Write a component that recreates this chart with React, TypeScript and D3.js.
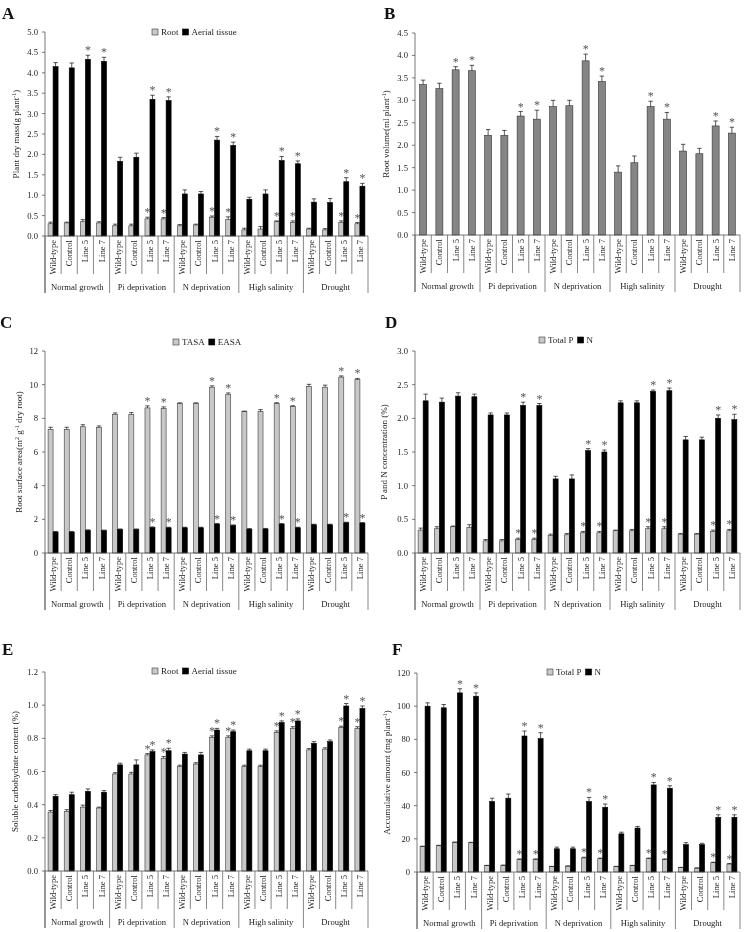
import React from 'react';
import * as d3 from 'd3';

const groups = ['Normal growth', 'Pi deprivation', 'N deprivation', 'High salinity', 'Drought'];
const lineNames = ['Wild-type', 'Control', 'Line 5', 'Line 7'];

// A: plant dry mass (g plant-1)
const massRoot = [0.30, 0.32, 0.35, 0.32, 0.25, 0.25, 0.42, 0.42, 0.25, 0.27, 0.46, 0.41, 0.15, 0.17, 0.35, 0.33, 0.17, 0.15, 0.33, 0.30];
const massRootErr = [0.04, 0.02, 0.05, 0.03, 0.04, 0.04, 0.04, 0.03, 0.03, 0.02, 0.03, 0.06, 0.04, 0.06, 0.02, 0.04, 0.02, 0.03, 0.04, 0.03];
const massRootSig = [0, 0, 0, 0, 0, 0, 1, 1, 0, 0, 1, 1, 0, 0, 1, 1, 0, 0, 1, 1];
const massAerial = [4.15, 4.12, 4.33, 4.28, 1.83, 1.93, 3.35, 3.32, 1.03, 1.03, 2.35, 2.22, 0.90, 1.03, 1.85, 1.77, 0.83, 0.82, 1.33, 1.22];
const massAerialErr = [0.1, 0.12, 0.1, 0.1, 0.1, 0.1, 0.1, 0.09, 0.1, 0.06, 0.09, 0.08, 0.05, 0.1, 0.1, 0.07, 0.08, 0.1, 0.1, 0.07];
const massAerialSig = [0, 0, 1, 1, 0, 0, 1, 1, 0, 0, 1, 1, 0, 0, 1, 1, 0, 0, 1, 1];

// B: root volume (ml plant-1)
const volume = [3.35, 3.26, 3.68, 3.66, 2.22, 2.22, 2.65, 2.58, 2.86, 2.88, 3.88, 3.42, 1.40, 1.61, 2.86, 2.58, 1.87, 1.81, 2.43, 2.27];
const volumeErr = [0.1, 0.12, 0.07, 0.12, 0.13, 0.11, 0.1, 0.2, 0.14, 0.12, 0.15, 0.12, 0.14, 0.15, 0.12, 0.15, 0.15, 0.12, 0.11, 0.13];
const volumeSig = [0, 0, 1, 1, 0, 0, 1, 1, 0, 0, 1, 1, 0, 0, 1, 1, 0, 0, 1, 1];

// C: root surface area
const tasa = [7.35, 7.35, 7.5, 7.45, 8.22, 8.22, 8.62, 8.58, 8.88, 8.88, 9.85, 9.43, 8.4, 8.4, 8.88, 8.7, 9.9, 9.85, 10.45, 10.3];
const tasaErr = [0.12, 0.12, 0.12, 0.1, 0.1, 0.12, 0.12, 0.1, 0.04, 0.04, 0.08, 0.08, 0.03, 0.12, 0.05, 0.05, 0.12, 0.12, 0.07, 0.07];
const tasaSig = [0, 0, 0, 0, 0, 0, 1, 1, 0, 0, 1, 1, 0, 0, 1, 1, 0, 0, 1, 1];
const easa = [1.25, 1.25, 1.35, 1.33, 1.4, 1.4, 1.52, 1.5, 1.5, 1.5, 1.72, 1.63, 1.42, 1.43, 1.72, 1.5, 1.68, 1.68, 1.8, 1.78];
const easaErr = [0.03, 0.03, 0.03, 0.03, 0.03, 0.03, 0.03, 0.03, 0.03, 0.03, 0.03, 0.04, 0.03, 0.03, 0.03, 0.03, 0.03, 0.03, 0.03, 0.03];
const easaSig = [0, 0, 0, 0, 0, 0, 1, 1, 0, 0, 1, 1, 0, 0, 1, 1, 0, 0, 1, 1];

// D: P and N concentration (%)
const totalP = [0.34, 0.36, 0.39, 0.38, 0.18, 0.18, 0.2, 0.2, 0.26, 0.27, 0.3, 0.3, 0.33, 0.33, 0.36, 0.36, 0.28, 0.28, 0.32, 0.33];
const totalPErr = [0.03, 0.03, 0.01, 0.04, 0.02, 0.02, 0.02, 0.02, 0.02, 0.02, 0.02, 0.02, 0.01, 0.02, 0.03, 0.03, 0.01, 0.01, 0.02, 0.02];
const totalPSig = [0, 0, 0, 0, 0, 0, 1, 1, 0, 0, 1, 1, 0, 0, 1, 1, 0, 0, 1, 1];
const nConc = [2.26, 2.24, 2.33, 2.32, 2.05, 2.05, 2.19, 2.19, 1.1, 1.1, 1.52, 1.5, 2.23, 2.23, 2.4, 2.41, 1.68, 1.68, 2.0, 1.98];
const nConcErr = [0.1, 0.06, 0.05, 0.04, 0.03, 0.03, 0.05, 0.03, 0.04, 0.06, 0.03, 0.03, 0.03, 0.03, 0.02, 0.04, 0.05, 0.04, 0.05, 0.08];
const nConcSig = [0, 0, 0, 0, 0, 0, 1, 1, 0, 0, 1, 1, 0, 0, 1, 1, 0, 0, 1, 1];

// E: soluble carbohydrate content (%)
const carbRoot = [0.355, 0.36, 0.385, 0.38, 0.585, 0.585, 0.70, 0.68, 0.63, 0.645, 0.805, 0.805, 0.63, 0.63, 0.835, 0.86, 0.73, 0.735, 0.865, 0.86];
const carbRootErr = [0.01, 0.01, 0.012, 0.005, 0.008, 0.01, 0.008, 0.01, 0.008, 0.008, 0.01, 0.01, 0.008, 0.008, 0.01, 0.01, 0.008, 0.008, 0.008, 0.01];
const carbRootSig = [0, 0, 0, 0, 0, 0, 1, 1, 0, 0, 1, 1, 0, 0, 1, 1, 0, 0, 1, 1];
const carbAerial = [0.45, 0.46, 0.48, 0.475, 0.64, 0.64, 0.72, 0.725, 0.705, 0.70, 0.85, 0.84, 0.725, 0.725, 0.895, 0.905, 0.77, 0.78, 0.995, 0.98];
const carbAerialErr = [0.01, 0.015, 0.015, 0.01, 0.01, 0.03, 0.01, 0.015, 0.01, 0.015, 0.01, 0.01, 0.01, 0.01, 0.01, 0.012, 0.01, 0.01, 0.015, 0.015];
const carbAerialSig = [0, 0, 0, 0, 0, 0, 1, 1, 0, 0, 1, 1, 0, 0, 1, 1, 0, 0, 1, 1];

// F: accumulative amount (mg plant-1)
const accP = [15.3, 15.8, 17.8, 17.6, 3.8, 4.0, 7.5, 7.5, 3.2, 3.5, 8.5, 8.0, 3.2, 3.8, 8.0, 7.5, 2.6, 2.3, 5.6, 4.8];
const accPErr = [0.3, 0.3, 0.3, 0.3, 0.2, 0.2, 0.4, 0.4, 0.2, 0.2, 0.4, 0.4, 0.2, 0.2, 0.4, 0.4, 0.2, 0.2, 0.3, 0.3];
const accPSig = [0, 0, 0, 0, 0, 0, 1, 1, 0, 0, 1, 1, 0, 0, 1, 1, 0, 0, 1, 1];
const accN = [100, 99, 108, 106, 42.5, 44.5, 82, 80.5, 14, 14, 42.5, 39, 23, 26.5, 52.5, 50.5, 16.5, 16.5, 33, 33];
const accNErr = [2, 2, 2.5, 2, 2, 2.5, 3, 3.5, 1, 1, 2.5, 2, 1, 1, 1.5, 1.5, 1.2, 0.8, 1.5, 1.5];
const accNSig = [0, 0, 1, 1, 0, 0, 1, 1, 0, 0, 1, 1, 0, 0, 1, 1, 0, 0, 1, 1];

const FONT = '"Liberation Serif", "Times New Roman", serif';
const TXT = '#222';
const GRAY = '#c8c8c8';
const GRAY_STROKE = '#3a3a3a';

type Series = { name: string; values: number[]; errors: number[]; sig: number[]; fill: string; stroke: string };

let measureCtx: CanvasRenderingContext2D | null = null;
function textWidth(s: string, size: number) {
  if (!measureCtx) {
    const c = document.createElement('canvas');
    measureCtx = c.getContext('2d');
  }
  if (!measureCtx) return s.length * size * 0.5;
  measureCtx.font = `${size}px "Liberation Serif"`;
  return measureCtx.measureText(s).width;
}

type PanelProps = {
  letter: string; letterX: number; letterY: number;
  x0: number; x1: number; yTop: number; y0: number;
  max: number; step: number; fmt: string;
  title: React.ReactNode; titleX: number;
  series: Series[]; barW: number;
  legend?: { x: number; y: number };
};

function Panel(p: PanelProps) {
  const n = groups.length * lineNames.length;
  const x = d3.scaleBand<number>().domain(d3.range(n)).range([p.x0, p.x1]).padding(0);
  const y = d3.scaleLinear().domain([0, p.max]).range([p.y0, p.yTop]);
  const ticks = d3.range(0, p.max + p.step / 2, p.step);
  const f = d3.format(p.fmt);
  const bw = p.barW;
  const ns = p.series.length;
  const catW = x.bandwidth();
  const legendItems: { x: number; s: Series }[] = [];
  if (p.legend) {
    let cur = p.legend.x;
    p.series.forEach((s) => {
      legendItems.push({ x: cur, s });
      cur += 9 + textWidth(s.name, 9) + 4;
    });
  }
  const fs = 8.6;
  return (
    <g>
      <text x={p.letterX} y={p.letterY} fontFamily={FONT} fontWeight="bold" fontSize={17} fill="#111">{p.letter}</text>
      {/* y axis */}
      <line x1={p.x0} x2={p.x0} y1={p.yTop} y2={p.y0 + 57} stroke="#555" strokeWidth={0.8} />
      {ticks.map((t) => (
        <g key={t}>
          <line x1={p.x0 - 3} x2={p.x0} y1={y(t)} y2={y(t)} stroke="#555" strokeWidth={0.8} />
          <text x={p.x0 - 7} y={y(t)} dy="0.35em" textAnchor="end" fontFamily={FONT} fontSize={fs} fill={TXT}>{f(t)}</text>
        </g>
      ))}
      <text transform={`translate(${p.titleX},${(p.yTop + p.y0) / 2}) rotate(-90)`} textAnchor="middle" fontFamily={FONT} fontSize={9} fill={TXT}>{p.title}</text>
      {/* bars */}
      {p.series.map((s, si) => (
        <g key={s.name}>
          {s.values.map((v, i) => {
            const cx = (x(i) as number) + catW / 2;
            const bx = cx - (ns * bw) / 2 + si * bw;
            const top = y(v);
            const et = y(v + s.errors[i]);
            const mx = bx + bw / 2;
            return (
              <g key={i}>
                <rect x={bx} y={top} width={bw} height={p.y0 - top} fill={s.fill} stroke={s.stroke} strokeWidth={0.6} />
                <line x1={mx} x2={mx} y1={top} y2={et} stroke="#111" strokeWidth={0.7} />
                <line x1={mx - 2.2} x2={mx + 2.2} y1={et} y2={et} stroke="#111" strokeWidth={0.7} />
                {s.sig[i] ? (
                  <text x={mx} y={et - 1} textAnchor="middle" fontFamily={FONT} fontSize={12} fill="#555" opacity={0.99}>*</text>
                ) : null}
              </g>
            );
          })}
        </g>
      ))}
      {/* x axis */}
      <line x1={p.x0} x2={p.x1} y1={p.y0} y2={p.y0} stroke="#555" strokeWidth={0.8} />
      {d3.range(n + 1).map((i) => {
        const xx = p.x0 + i * catW;
        const isGroup = i % lineNames.length === 0;
        return <line key={i} x1={xx} x2={xx} y1={p.y0} y2={p.y0 + (isGroup ? 57 : 38)} stroke="#555" strokeWidth={0.7} />;
      })}
      {d3.range(n).map((i) => {
        const cx = (x(i) as number) + catW / 2;
        return (
          <text key={i} transform={`translate(${cx},${p.y0 + 4}) rotate(-90)`} dy="0.35em" textAnchor="end" fontFamily={FONT} fontSize={fs} fill={TXT}>
            {lineNames[i % lineNames.length]}
          </text>
        );
      })}
      {groups.map((g, gi) => {
        const cx = p.x0 + (gi + 0.5) * catW * lineNames.length;
        return (
          <text key={g} x={cx} y={p.y0 + 54} textAnchor="middle" fontFamily={FONT} fontSize={fs} fill={TXT}>{g}</text>
        );
      })}
      {/* legend */}
      {p.legend && legendItems.map(({ x: lx, s }) => (
        <g key={s.name}>
          <rect x={lx} y={p.legend!.y - 3} width={6} height={6} fill={s.fill} stroke={s.stroke} strokeWidth={0.6} />
          <text x={lx + 9} y={p.legend!.y + 3} fontFamily={FONT} fontSize={9} fill={TXT}>{s.name}</text>
        </g>
      ))}
    </g>
  );
}

export default function App() {
  return (
    <svg width={744} height={932} style={{ position: 'absolute', left: 0, top: 0, background: '#fff', willChange: 'transform' }}>
      <rect width={744} height={932} fill="#fff" />
      <Panel
        letter="A" letterX={2} letterY={19}
        x0={45} x1={368} yTop={32} y0={236} max={5} step={0.5} fmt=".1f"
        title={<>Plant dry mass(g plant<tspan dy={-3.5} fontSize={6}>-1</tspan><tspan dy={3.5}>)</tspan></>}
        titleX={19}
        barW={5}
        legend={{ x: 152, y: 32 }}
        series={[
          { name: 'Root', values: massRoot, errors: massRootErr, sig: massRootSig, fill: GRAY, stroke: GRAY_STROKE },
          { name: 'Aerial tissue', values: massAerial, errors: massAerialErr, sig: massAerialSig, fill: '#000', stroke: '#000' },
        ]}
      />
      <Panel
        letter="B" letterX={384} letterY={19}
        x0={415} x1={740} yTop={33} y0={235} max={4.5} step={0.5} fmt=".1f"
        title={<>Root volume(ml plant<tspan dy={-3.5} fontSize={6}>-1</tspan><tspan dy={3.5}>)</tspan></>}
        titleX={389}
        barW={7}
        series={[
          { name: 'Root volume', values: volume, errors: volumeErr, sig: volumeSig, fill: '#858585', stroke: '#333' },
        ]}
      />
      <Panel
        letter="C" letterX={0} letterY={328}
        x0={45} x1={368} yTop={351} y0={553} max={12} step={2} fmt="d"
        title={<>Root surface area(m<tspan dy={-3.5} fontSize={6}>2</tspan><tspan dy={3.5}> g</tspan><tspan dy={-3.5} fontSize={6}>-1</tspan><tspan dy={3.5}> dry root)</tspan></>}
        titleX={22}
        barW={5}
        legend={{ x: 173, y: 342 }}
        series={[
          { name: 'TASA', values: tasa, errors: tasaErr, sig: tasaSig, fill: GRAY, stroke: GRAY_STROKE },
          { name: 'EASA', values: easa, errors: easaErr, sig: easaSig, fill: '#000', stroke: '#000' },
        ]}
      />
      <Panel
        letter="D" letterX={385} letterY={328}
        x0={415} x1={740} yTop={351} y0={553} max={3} step={0.5} fmt=".1f"
        title={<>P and N concentration (%)</>}
        titleX={387}
        barW={5}
        legend={{ x: 539, y: 340 }}
        series={[
          { name: 'Total P', values: totalP, errors: totalPErr, sig: totalPSig, fill: GRAY, stroke: GRAY_STROKE },
          { name: 'N', values: nConc, errors: nConcErr, sig: nConcSig, fill: '#000', stroke: '#000' },
        ]}
      />
      <Panel
        letter="E" letterX={2} letterY={655}
        x0={45} x1={368} yTop={672} y0={871} max={1.2} step={0.2} fmt=".1f"
        title={<>Soluble carbohydrate content (%)</>}
        titleX={18}
        barW={5}
        legend={{ x: 152, y: 671 }}
        series={[
          { name: 'Root', values: carbRoot, errors: carbRootErr, sig: carbRootSig, fill: GRAY, stroke: GRAY_STROKE },
          { name: 'Aerial tissue', values: carbAerial, errors: carbAerialErr, sig: carbAerialSig, fill: '#000', stroke: '#000' },
        ]}
      />
      <Panel
        letter="F" letterX={392} letterY={655}
        x0={417} x1={740} yTop={673} y0={872} max={120} step={20} fmt="d"
        title={<>Accumulative amount (mg plant<tspan dy={-3.5} fontSize={6}>-1</tspan><tspan dy={3.5}>)</tspan></>}
        titleX={390}
        barW={5}
        legend={{ x: 547, y: 672 }}
        series={[
          { name: 'Total P', values: accP, errors: accPErr, sig: accPSig, fill: GRAY, stroke: GRAY_STROKE },
          { name: 'N', values: accN, errors: accNErr, sig: accNSig, fill: '#000', stroke: '#000' },
        ]}
      />
    </svg>
  );
}
